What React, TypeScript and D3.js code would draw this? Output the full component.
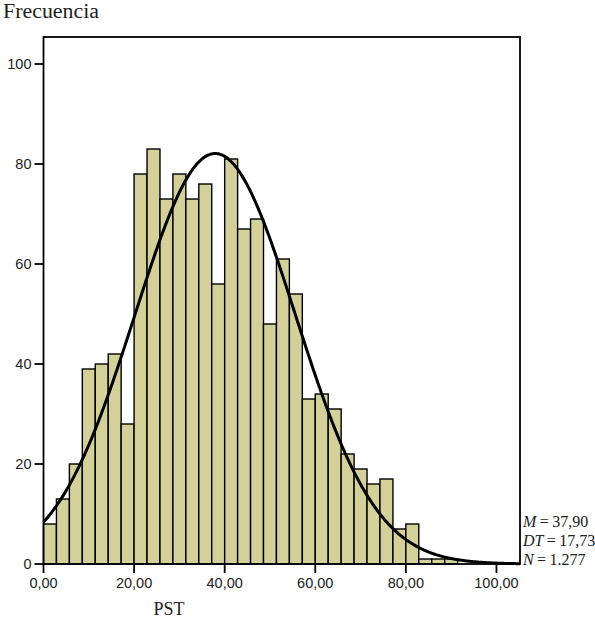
import * as d3 from "d3";

// Frecuencias por intervalo (ancho de intervalo 20/7)
const binWidth = 20 / 7;
const counts = [
  8, 13, 20, 39, 40, 42, 28,
  78, 83, 73, 78, 73, 76, 56,
  81, 67, 69, 48, 61, 54, 33,
  34, 31, 22, 19, 16, 17, 7,
  8, 1, 1, 1,
];
const yTicks = [0, 20, 40, 60, 80, 100];
const xTicks = [0, 20, 40, 60, 80, 100];
const mean = 37.9;
const sd = 17.73;
const n = 1277;
const statLabels = [
  { k: "M", v: "37,90" },
  { k: "DT", v: "17,73" },
  { k: "N", v: "1.277" },
];

const W = 595;
const H = 624;
const left = 43.5;
const right = 520;
const top = 37;
const bottom = 564;

const serif = "'Liberation Serif', 'Times New Roman', serif";
const sans = "'Liberation Sans', Arial, sans-serif";

export default function App() {
  const x = d3.scaleLinear().domain([0, 105.2]).range([left, right]);
  const y = d3.scaleLinear().domain([0, 105.4]).range([bottom, top]);

  const bins = counts.map((c, i) => ({ x0: i * binWidth, x1: (i + 1) * binWidth, c }));

  const peak = (n * binWidth) / (sd * Math.sqrt(2 * Math.PI));
  const curvePts = d3.range(0, 105.2001, 0.2).map(v => [v, peak * Math.exp(-0.5 * ((v - mean) / sd) ** 2)] as [number, number]);
  const line = d3.line<[number, number]>().x(d => x(d[0])).y(d => y(d[1])).curve(d3.curveBasis);

  const fmt = (v: number) => d3.format(".2f")(v).replace(".", ",");

  return (
    <svg width={W} height={H} style={{ position: "absolute", left: 0, top: 0, background: "#fff" }}>
      <text x={3} y={18} fontFamily={serif} fontSize={20} textLength={96} lengthAdjust="spacingAndGlyphs" fill="#222">Frecuencia</text>

      {/* barras */}
      {bins.map((b, i) => (
        <rect
          key={i}
          x={x(b.x0)}
          y={y(b.c)}
          width={x(b.x1) - x(b.x0)}
          height={y(0) - y(b.c)}
          fill="#D4D09A"
          stroke="#000"
          strokeWidth={1.4}
        />
      ))}

      {/* curva normal */}
      <path d={line(curvePts) || ""} fill="none" stroke="#000" strokeWidth={3} />

      {/* marco */}
      <rect x={left} y={top} width={right - left} height={bottom - top} fill="none" stroke="#000" strokeWidth={1.8} />

      {/* eje Y */}
      {yTicks.map(t => (
        <g key={t}>
          <line x1={left - 9} x2={left} y1={y(t)} y2={y(t)} stroke="#000" strokeWidth={1.8} />
          <text x={left - 12} y={y(t)} dy="0.36em" textAnchor="end" fontFamily={sans} fontSize={14.5} fill="#222">{t}</text>
        </g>
      ))}

      {/* eje X */}
      {xTicks.map(t => (
        <g key={t}>
          <line x1={x(t)} x2={x(t)} y1={bottom} y2={bottom + 9} stroke="#000" strokeWidth={1.8} />
          <text x={x(t)} y={bottom + 24} textAnchor="middle" fontFamily={sans} fontSize={14.5} fill="#222">{fmt(t)}</text>
        </g>
      ))}
      <text x={169} y={615} textAnchor="middle" fontFamily={serif} fontSize={18} fill="#222">PST</text>

      {/* estadísticos */}
      {statLabels.map((s, i) => (
        <text key={s.k} x={523} y={527 + i * 19} fontFamily={serif} fontSize={16} wordSpacing={-0.6} fill="#222">
          <tspan fontStyle="italic">{s.k}</tspan>
          <tspan> = {s.v}</tspan>
        </text>
      ))}
    </svg>
  );
}
